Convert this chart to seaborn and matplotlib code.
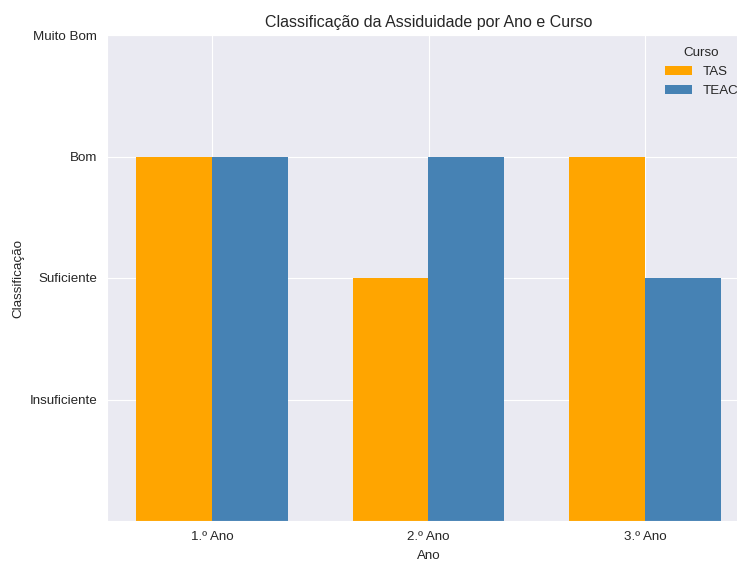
import pandas as pd
import matplotlib
matplotlib.use('Agg')
import matplotlib.pyplot as plt
import seaborn as sns

# Dados
anos = ['1.º Ano', '2.º Ano', '3.º Ano']
tas = [3, 2, 3]
teac = [3, 3, 2]
niveis = ['Insuficiente', 'Suficiente', 'Bom', 'Muito Bom']

df = pd.DataFrame({
    'Ano': anos * 2,
    'Curso': ['TAS'] * len(anos) + ['TEAC'] * len(anos),
    'Classificacao': tas + teac,
})

sns.set_style('darkgrid')
plt.rcParams['font.family'] = ['Liberation Sans', 'DejaVu Sans']

fig = plt.figure(figsize=(7.37, 5.61), dpi=100)
ax = fig.add_axes([107 / 737, 1 - 521 / 561, 643 / 737, 486 / 561])

sns.barplot(data=df, x='Ano', y='Classificacao', hue='Curso',
            palette={'TAS': 'orange', 'TEAC': 'steelblue'},
            width=0.7, saturation=1, linewidth=0, ax=ax)

ax.set_xlim(-0.485, 2.485)
ax.set_ylim(0, 4)
ax.set_yticks(range(1, len(niveis) + 1))
ax.set_yticklabels(niveis)
ax.grid(True, axis='both', color='white')
ax.set_axisbelow(True)
ax.tick_params(labelsize=9.6)
ax.set_xlabel('Ano', fontsize=9.6, labelpad=5)
ax.set_ylabel('Classificação', fontsize=9.6, labelpad=4)
ax.set_title('Classificação da Assiduidade por Ano e Curso', fontsize=11.5)
ax.legend(title='Curso', loc='upper right', frameon=False, fontsize=9.6, title_fontsize=9.6)

fig.savefig('out.png', dpi=100)
